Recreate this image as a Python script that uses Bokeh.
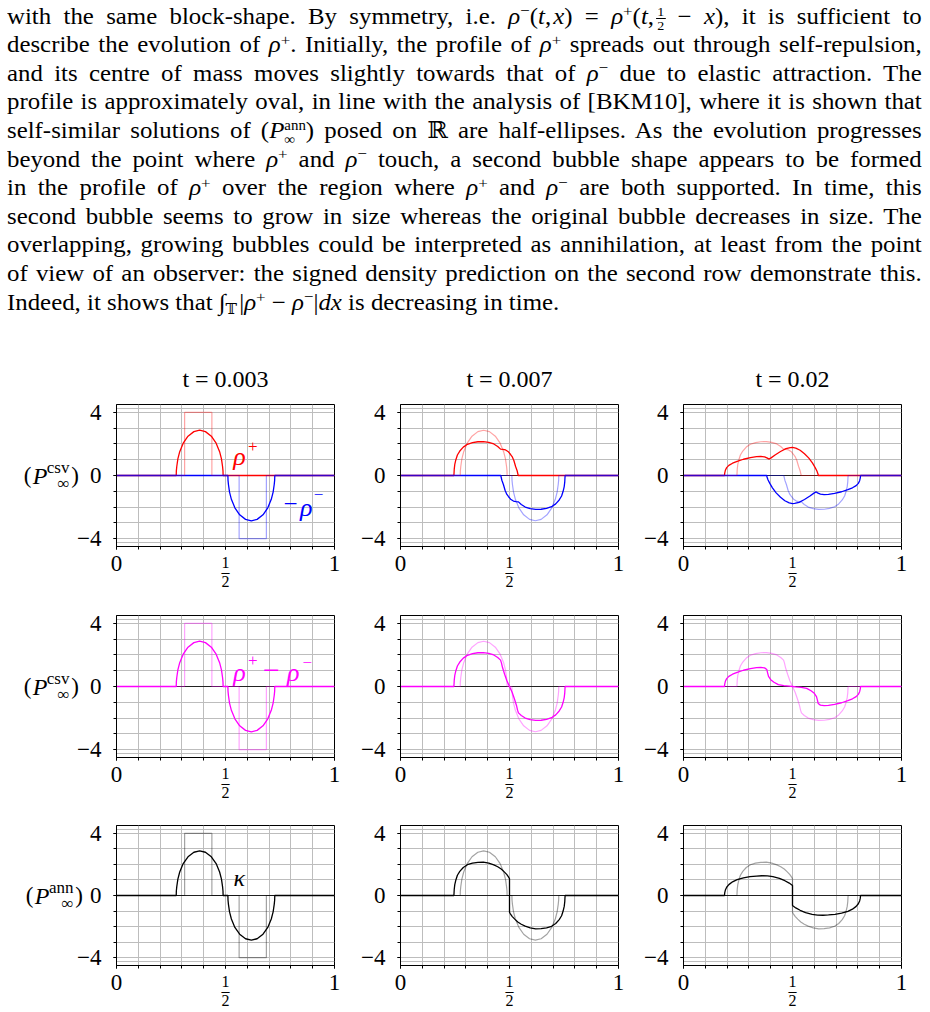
from bokeh.plotting import figure
from bokeh.models import Div, FixedTicker, Label, Span, LinearAxis
from bokeh.layouts import column, row
from bokeh.embed import file_html
from bokeh.resources import INLINE

SERIF = "Liberation Serif"

# ---------------- data ----------------
TIMES = ["t = 0.003", "t = 0.007", "t = 0.02"]
X_TICKS = [0, 0.5, 1]
X_MINOR = [0.0, 0.1, 0.2, 0.3, 0.4, 0.5, 0.6, 0.7, 0.8, 0.9, 1.0]
Y_TICKS = [-4, 0, 4]
Y_MINOR = [-4, -3, -2, -1, 0, 1, 2, 3, 4]
Y_GRID = [-4.25, -4, -3, -2, -1, 0, 1, 2, 3, 4, 4.25]

BLOCK_P_X = [0.0, 0.3125, 0.3125, 0.4375, 0.4375, 1.0]
BLOCK_P_Y = [0, 0, 4, 4, 0, 0]
BLOCK_M_X = [0.0, 0.5625, 0.5625, 0.6875, 0.6875, 1.0]
BLOCK_M_Y = [0, 0, -4, -4, 0, 0]
BLOCK_S_X = [0.0, 0.3125, 0.3125, 0.4375, 0.4375, 0.5625, 0.5625, 0.6875, 0.6875, 1.0]
BLOCK_S_Y = [0, 0, 4, 4, 0, 0, -4, -4, 0, 0]

RHO_P_003_X = [0.0, 0.274, 0.2745, 0.2765, 0.2815, 0.290, 0.306, 0.328, 0.355, 0.3815, 0.408, 0.435, 0.457, 0.473, 0.4815, 0.4865, 0.4885, 0.489, 1.0]
RHO_P_003_Y = [0, 0, 0.29, 0.57, 1.05, 1.51, 2.05, 2.49, 2.78, 2.87, 2.78, 2.49, 2.05, 1.51, 1.05, 0.57, 0.29, 0, 0]
RHO_M_003_X = [0.0, 0.511, 0.5115, 0.5135, 0.5185, 0.527, 0.543, 0.565, 0.592, 0.6185, 0.645, 0.672, 0.694, 0.710, 0.7185, 0.7235, 0.7255, 0.726, 1.0]
RHO_M_003_Y = [0, 0, -0.29, -0.57, -1.05, -1.51, -2.05, -2.49, -2.78, -2.87, -2.78, -2.49, -2.05, -1.51, -1.05, -0.57, -0.29, 0, 0]

RHO_P_007_X = [0.0, 0.245, 0.2465, 0.249, 0.254, 0.261, 0.272, 0.288, 0.307, 0.33, 0.355, 0.38, 0.405, 0.428, 0.446, 0.459, 0.47, 0.482, 0.495, 0.505, 0.512, 0.52, 0.528, 0.535, 0.54, 1.0]
RHO_P_007_Y = [0, 0, 0.4, 0.7, 1.0, 1.3, 1.55, 1.8, 1.98, 2.08, 2.14, 2.15, 2.1, 2.0, 1.84, 1.67, 1.66, 1.62, 1.5, 1.33, 1.2, 0.95, 0.57, 0.3, 0, 0]
RHO_M_007_X = [0.0, 0.46, 0.465, 0.472, 0.48, 0.488, 0.495, 0.505, 0.518, 0.53, 0.541, 0.554, 0.572, 0.595, 0.62, 0.645, 0.67, 0.693, 0.712, 0.728, 0.739, 0.746, 0.751, 0.7535, 0.755, 1.0]
RHO_M_007_Y = [0, 0, -0.3, -0.57, -0.95, -1.2, -1.33, -1.5, -1.62, -1.66, -1.67, -1.84, -2.0, -2.1, -2.15, -2.14, -2.08, -1.98, -1.8, -1.55, -1.3, -1.0, -0.7, -0.4, 0, 0]

RHO_P_02_X = [0.0, 0.188, 0.189, 0.192, 0.198, 0.208, 0.225, 0.246, 0.275, 0.307, 0.335, 0.355, 0.372, 0.385, 0.391, 0.40, 0.42, 0.445, 0.47, 0.49, 0.5, 0.515, 0.535, 0.555, 0.575, 0.592, 0.604, 0.612, 0.617, 0.618, 1.0]
RHO_P_02_Y = [0, 0, 0.15, 0.33, 0.5, 0.64, 0.78, 0.9, 1.03, 1.13, 1.19, 1.21, 1.18, 1.1, 1.04, 1.1, 1.3, 1.52, 1.7, 1.77, 1.78, 1.74, 1.6, 1.38, 1.1, 0.78, 0.5, 0.28, 0.1, 0, 0]
RHO_M_02_X = [0.0, 0.382, 0.383, 0.388, 0.396, 0.408, 0.425, 0.445, 0.465, 0.485, 0.5, 0.51, 0.53, 0.555, 0.58, 0.6, 0.609, 0.615, 0.628, 0.645, 0.665, 0.693, 0.725, 0.754, 0.775, 0.792, 0.802, 0.808, 0.811, 0.812, 1.0]
RHO_M_02_Y = [0, 0, -0.1, -0.28, -0.5, -0.78, -1.1, -1.38, -1.6, -1.74, -1.78, -1.77, -1.7, -1.52, -1.3, -1.1, -1.04, -1.1, -1.18, -1.21, -1.19, -1.13, -1.03, -0.9, -0.78, -0.64, -0.5, -0.33, -0.15, 0, 0]

SIGNED_003_X = [0.0, 0.274, 0.2745, 0.2765, 0.2815, 0.290, 0.306, 0.328, 0.355, 0.3815, 0.408, 0.435, 0.457, 0.473, 0.4815, 0.4865, 0.4885, 0.489,
                0.511, 0.5115, 0.5135, 0.5185, 0.527, 0.543, 0.565, 0.592, 0.6185, 0.645, 0.672, 0.694, 0.710, 0.7185, 0.7235, 0.7255, 0.726, 1.0]
SIGNED_003_Y = [0, 0, 0.29, 0.57, 1.05, 1.51, 2.05, 2.49, 2.78, 2.87, 2.78, 2.49, 2.05, 1.51, 1.05, 0.57, 0.29, 0,
                0, -0.29, -0.57, -1.05, -1.51, -2.05, -2.49, -2.78, -2.87, -2.78, -2.49, -2.05, -1.51, -1.05, -0.57, -0.29, 0, 0]
SIGNED_007_X = [0.0, 0.245, 0.2465, 0.249, 0.254, 0.261, 0.272, 0.288, 0.307, 0.33, 0.355, 0.38, 0.405, 0.428, 0.446, 0.459, 0.463, 0.468, 0.478, 0.488, 0.5,
                0.512, 0.522, 0.532, 0.537, 0.541, 0.554, 0.572, 0.595, 0.62, 0.645, 0.67, 0.693, 0.712, 0.728, 0.739, 0.746, 0.751, 0.7535, 0.755, 1.0]
SIGNED_007_Y = [0, 0, 0.4, 0.7, 1.0, 1.3, 1.55, 1.8, 1.98, 2.08, 2.14, 2.15, 2.1, 2.0, 1.84, 1.67, 1.5, 1.2, 0.76, 0.36, 0,
                -0.36, -0.76, -1.2, -1.5, -1.67, -1.84, -2.0, -2.1, -2.15, -2.14, -2.08, -1.98, -1.8, -1.55, -1.3, -1.0, -0.7, -0.4, 0, 0]
SIGNED_02_X = [0.0, 0.188, 0.189, 0.192, 0.198, 0.208, 0.225, 0.246, 0.275, 0.307, 0.335, 0.355, 0.372, 0.382, 0.386, 0.39, 0.40, 0.415, 0.435, 0.46, 0.485, 0.5,
               0.515, 0.54, 0.565, 0.585, 0.60, 0.61, 0.614, 0.618, 0.628, 0.645, 0.665, 0.693, 0.725, 0.754, 0.775, 0.792, 0.802, 0.808, 0.811, 0.812, 1.0]
SIGNED_02_Y = [0, 0, 0.15, 0.33, 0.5, 0.64, 0.78, 0.9, 1.03, 1.13, 1.19, 1.21, 1.18, 1.08, 0.85, 0.64, 0.43, 0.27, 0.12, 0.05, 0.02, 0,
               -0.02, -0.05, -0.12, -0.27, -0.43, -0.64, -0.85, -1.08, -1.18, -1.21, -1.19, -1.13, -1.03, -0.9, -0.78, -0.64, -0.5, -0.33, -0.15, 0, 0]

KAPPA_003_X = SIGNED_003_X
KAPPA_003_Y = SIGNED_003_Y
KAPPA_007_X = [0.0, 0.245, 0.2465, 0.249, 0.254, 0.261, 0.272, 0.288, 0.307, 0.33, 0.355, 0.38, 0.405, 0.428, 0.446, 0.462, 0.476, 0.488, 0.496, 0.5,
               0.5, 0.504, 0.512, 0.524, 0.538, 0.554, 0.572, 0.595, 0.62, 0.645, 0.67, 0.693, 0.712, 0.728, 0.739, 0.746, 0.751, 0.7535, 0.755, 1.0]
KAPPA_007_Y = [0, 0, 0.4, 0.7, 1.0, 1.3, 1.55, 1.8, 1.98, 2.08, 2.13, 2.14, 2.08, 1.97, 1.85, 1.7, 1.52, 1.34, 1.18, 1.08,
               -1.08, -1.18, -1.34, -1.52, -1.7, -1.85, -1.97, -2.08, -2.14, -2.13, -2.08, -1.98, -1.8, -1.55, -1.3, -1.0, -0.7, -0.4, 0, 0]
KAPPA_02_X = [0.0, 0.188, 0.189, 0.192, 0.198, 0.208, 0.225, 0.246, 0.275, 0.305, 0.335, 0.36, 0.385, 0.41, 0.44, 0.465, 0.485, 0.497, 0.5,
              0.5, 0.503, 0.515, 0.535, 0.56, 0.59, 0.615, 0.64, 0.665, 0.695, 0.725, 0.754, 0.775, 0.792, 0.802, 0.808, 0.811, 0.812, 1.0]
KAPPA_02_Y = [0, 0, 0.17, 0.35, 0.53, 0.7, 0.88, 1.02, 1.13, 1.21, 1.25, 1.27, 1.26, 1.21, 1.1, 0.95, 0.8, 0.68, 0.64,
              -0.64, -0.68, -0.8, -0.95, -1.1, -1.21, -1.26, -1.27, -1.25, -1.21, -1.13, -1.02, -0.88, -0.7, -0.53, -0.35, -0.17, 0, 0]

RED, BLUE, MAGENTA, BLACK = "#ff0000", "#0000ff", "#ff00ff", "#000000"

PANELS = [
    [([(RHO_P_003_X, RHO_P_003_Y, RED), (RHO_M_003_X, RHO_M_003_Y, BLUE)],
      [(BLOCK_P_X, BLOCK_P_Y, RED), (BLOCK_M_X, BLOCK_M_Y, BLUE)]),
     ([(RHO_P_007_X, RHO_P_007_Y, RED), (RHO_M_007_X, RHO_M_007_Y, BLUE)],
      [(RHO_P_003_X, RHO_P_003_Y, RED), (RHO_M_003_X, RHO_M_003_Y, BLUE)]),
     ([(RHO_P_02_X, RHO_P_02_Y, RED), (RHO_M_02_X, RHO_M_02_Y, BLUE)],
      [(RHO_P_007_X, RHO_P_007_Y, RED), (RHO_M_007_X, RHO_M_007_Y, BLUE)])],
    [([(SIGNED_003_X, SIGNED_003_Y, MAGENTA)], [(BLOCK_S_X, BLOCK_S_Y, MAGENTA)]),
     ([(SIGNED_007_X, SIGNED_007_Y, MAGENTA)], [(SIGNED_003_X, SIGNED_003_Y, MAGENTA)]),
     ([(SIGNED_02_X, SIGNED_02_Y, MAGENTA)], [(SIGNED_007_X, SIGNED_007_Y, MAGENTA)])],
    [([(KAPPA_003_X, KAPPA_003_Y, BLACK)], [(BLOCK_S_X, BLOCK_S_Y, BLACK)]),
     ([(KAPPA_007_X, KAPPA_007_Y, BLACK)], [(KAPPA_003_X, KAPPA_003_Y, BLACK)]),
     ([(KAPPA_02_X, KAPPA_02_Y, BLACK)], [(KAPPA_007_X, KAPPA_007_Y, BLACK)])],
]
ROW_SUPERSCRIPTS = ["csv", "csv", "ann"]
HALF_LABEL = "1\n–\n2"

# ---------------- paragraph ----------------
def sup(s):
    return f'<span style="position:relative;top:-0.48em;font-size:0.68em;line-height:0">{s}</span>'


def sub(s):
    return f'<span style="position:relative;top:0.3em;font-size:0.62em;line-height:0">{s}</span>'


RP = '<i>ρ</i>' + sup('+')
RM = '<i>ρ</i>' + sup('−')
FRAC = ('<span style="display:inline-block;vertical-align:middle;text-align:center;text-align-last:center;'
        'font-size:13px;line-height:13px;">'
        '<span style="display:block;border-bottom:1px solid #000;padding:0 1px">1</span>'
        '<span style="display:block">2</span></span>')
PANN = ('(<i>P</i><span style="display:inline-block;vertical-align:-0.42em;font-size:0.6em;line-height:1.0em;'
        'text-align:left;text-align-last:left"><span style="display:block">ann</span>'
        '<span style="display:block">∞</span></span>)')
PARAGRAPH_LINES = [
    f'with the same block-shape. By symmetry, i.e. {RM}(<i>t</i>,&#8202;<i>x</i>) = {RP}(<i>t</i>,&#8202;{FRAC} − <i>x</i>), it is sufficient to',
    f'describe the evolution of {RP}. Initially, the profile of {RP} spreads out through self-repulsion,',
    f'and its centre of mass moves slightly towards that of {RM} due to elastic attraction. The',
    'profile is approximately oval, in line with the analysis of [BKM10], where it is shown that',
    f'self-similar solutions of {PANN} posed on ℝ are half-ellipses. As the evolution progresses',
    f'beyond the point where {RP} and {RM} touch, a second bubble shape appears to be formed',
    f'in the profile of {RP} over the region where {RP} and {RM} are both supported. In time, this',
    'second bubble seems to grow in size whereas the original bubble decreases in size. The',
    'overlapping, growing bubbles could be interpreted as annihilation, at least from the point',
    'of view of an observer: the signed density prediction on the second row demonstrate this.',
    f'Indeed, it shows that ∫{sub("𝕋")}&#8202;|{RP} − {RM}|<i>dx</i> is decreasing in time.',
]

line_divs = []
for i, ln in enumerate(PARAGRAPH_LINES):
    last = i == len(PARAGRAPH_LINES) - 1
    align = "left" if last else "justify"
    line_divs.append(
        f'<div style="height:28.6px;line-height:28.6px;white-space:normal;text-align:{align};text-align-last:{align};">{ln}</div>')
html = ('<div style="padding:2.7px 0 0 7px;">'
        '<div style="width:847px;transform:scaleX(1.08);transform-origin:0 0;'
        'font-family:\'Liberation Serif\',\'DejaVu Serif\',serif;font-size:23px;color:#000;">'
        + "".join(line_divs) + '</div></div>')
div = Div(text=html, width=930, height=339, margin=(0, 0, 0, 0))

# ---------------- panels ----------------
LEFT = [116, 58, 57]
RIGHT = [8, 8, 29]
TOP = [65, 19, 18]
BOTTOM = [50, 50, 45]
FRAME_W, FRAME_H = 218, 142


def lab(p, x, y, text, size="22px", color="black", style="normal", align="left", baseline="alphabetic"):
    p.add_layout(Label(x=x, y=y, text=text, text_font=SERIF, text_font_size=size, text_color=color,
                       text_font_style=style, text_align=align, text_baseline=baseline))


def text_axis(p, text, size, style, standoff, line_height=1.2):
    ax = LinearAxis(ticker=FixedTicker(ticks=[]), axis_label=text, axis_label_orientation="horizontal",
                    axis_label_standoff=standoff, axis_label_text_font=SERIF,
                    axis_label_text_font_size=size, axis_label_text_font_style=style,
                    axis_label_text_color="black", axis_label_text_line_height=line_height,
                    axis_line_color=None, major_tick_line_color=None, minor_tick_line_color=None,
                    major_tick_out=0, major_tick_in=0, minor_tick_out=0, minor_tick_in=0,
                    major_label_standoff=0, major_label_text_font_size="1px")
    p.add_layout(ax, "left")


def make_panel(r, c):
    p = figure(width=LEFT[c] + FRAME_W + RIGHT[c], height=TOP[r] + FRAME_H + BOTTOM[r],
               x_range=(0, 1), y_range=(-4.5, 4.5), title=(TIMES[c] if r == 0 else ""),
               min_border_left=LEFT[c], min_border_right=RIGHT[c],
               min_border_top=TOP[r], min_border_bottom=BOTTOM[r],
               output_backend="svg", toolbar_location=None, tools="",
               background_fill_color="white", border_fill_color="white",
               outline_line_color="black", outline_line_width=1, margin=(0, 0, 0, 0))
    p.title.align = "center"
    p.title.text_font = SERIF
    p.title.text_font_size = "24px"
    p.title.text_font_style = "normal"
    p.title.text_color = "black"
    p.title.standoff = 25

    p.xaxis.ticker = FixedTicker(ticks=X_TICKS, minor_ticks=X_MINOR)
    p.yaxis.ticker = FixedTicker(ticks=Y_TICKS, minor_ticks=Y_MINOR)
    p.xaxis.major_label_overrides = {0: "0", 0.5: "", 1: "1"}
    p.yaxis.major_label_overrides = {-4: "−4", 0: "0", 4: "4"}
    for ax in (p.xaxis, p.yaxis):
        ax.axis_line_color = "black"
        ax.major_tick_line_color = "black"
        ax.minor_tick_line_color = "black"
        ax.major_tick_in = 0
        ax.minor_tick_in = 0
        ax.major_tick_out = 3
        ax.minor_tick_out = 3
        ax.major_label_text_font = SERIF
        ax.major_label_text_font_size = "23px"
        ax.major_label_text_color = "black"
    p.xaxis.major_label_standoff = 6
    p.yaxis.major_label_standoff = 12

    # the 1/2 fraction under the middle of the x axis
    p.xaxis.axis_label = HALF_LABEL
    p.xaxis.axis_label_text_font = SERIF
    p.xaxis.axis_label_text_font_size = "16px"
    p.xaxis.axis_label_text_font_style = "normal"
    p.xaxis.axis_label_text_color = "black"
    p.xaxis.axis_label_text_line_height = 0.58
    p.xaxis.axis_label_standoff = -20

    p.xgrid.ticker = FixedTicker(ticks=X_MINOR)
    p.ygrid.ticker = FixedTicker(ticks=Y_GRID)
    for g in (p.xgrid, p.ygrid):
        g.grid_line_color = "#bdbdbd"
        g.grid_line_width = 1

    p.add_layout(Span(location=0, dimension="width", line_color="#222222", line_width=1, level="underlay"))

    main, light = PANELS[r][c]
    for xs, ys, col in main:
        p.line(xs, ys, line_color=col, line_width=1.3)
    for xs, ys, col in light:
        p.line(xs, ys, line_color=col, line_width=1.2, line_alpha=0.36)

    if c == 0:
        s = ROW_SUPERSCRIPTS[r]
        p.yaxis.axis_label = ")"
        p.yaxis.axis_label_orientation = "horizontal"
        p.yaxis.axis_label_standoff = -5 if s == "csv" else -9
        p.yaxis.axis_label_text_font = SERIF
        p.yaxis.axis_label_text_font_size = "23px"
        p.yaxis.axis_label_text_font_style = "normal"
        p.yaxis.axis_label_text_color = "black"
        text_axis(p, s + "\n∞", "17px", "normal", -1, 0.85)
        text_axis(p, "P", "24px", "italic", -4)
        text_axis(p, "(", "23px", "normal", -2)

    if r == 0 and c == 0:
        lab(p, 0.535, 1.2, "ρ", size="26px", color=RED, style="italic")
        lab(p, 0.603, 1.82, "+", size="17px", color=RED, baseline="middle")
        lab(p, 0.766, -1.75, "−", size="25px", color=BLUE, baseline="middle")
        lab(p, 0.842, -2.05, "ρ", size="26px", color=BLUE, style="italic")
        lab(p, 0.905, -1.22, "−", size="17px", color=BLUE, baseline="middle")
    if r == 1 and c == 0:
        lab(p, 0.535, 0.9, "ρ", size="26px", color=MAGENTA, style="italic")
        lab(p, 0.603, 1.65, "+", size="17px", color=MAGENTA, baseline="middle")
        lab(p, 0.672, 1.0, "−", size="30px", color=MAGENTA, baseline="middle")
        lab(p, 0.782, 0.9, "ρ", size="26px", color=MAGENTA, style="italic")
        lab(p, 0.853, 1.55, "−", size="17px", color=MAGENTA, baseline="middle")
    if r == 2 and c == 0:
        lab(p, 0.537, 1.12, "κ", size="24px", color=BLACK, style="italic")
    return p


rows = [row(*[make_panel(r, c) for c in range(3)], spacing=0) for r in range(3)]
layout = column(div, *rows, spacing=0)

open("out.html", "w").write(file_html(layout, INLINE))
